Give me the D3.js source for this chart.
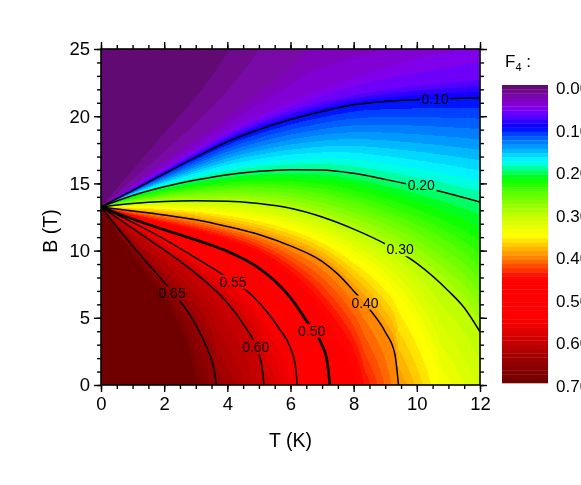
<!DOCTYPE html>
<html lang="en">
<meta charset="UTF-8">
<title>F4 contour map</title>
<script src="https://cdn.jsdelivr.net/npm/d3@7"></script>
<style>
body { margin: 0; background: #fff; }
#wrap { position: relative; width: 581px; height: 485px; overflow: hidden; }
#field { position: absolute; }
#chart { position: absolute; left: 0; top: 0; font-family: "Liberation Sans", Arial, sans-serif; }
</style>
<body>
<div id="wrap">
  <canvas id="field"></canvas>
  <svg id="chart" width="581" height="485"></svg>
</div>
<script>
// labelled contour levels and where their labels sit (T in K, B in T)
const levels = [0.10, 0.20, 0.30, 0.40, 0.50, 0.55, 0.60, 0.65];
const labelT = [10.58, 10.14, 9.47, 8.36, 6.67, 4.18, 4.90, 2.25];
const labelB = [21.25, 14.88, 10.09, 6.13, 4.03, 7.67, 2.81, 6.82];

// contour lines, [T, B]
const line010 = [[0,13.25],[1,14.47],[2,15.72],[3,16.95],[4,18.1],[5,19.0],[6,19.75],[7,20.35],[8,20.85],[9,21.1],[10,21.22],[11,21.3],[12,21.37]];
const line020 = [[0,13.25],[1,14.1],[2,14.75],[3,15.25],[4,15.65],[5,15.9],[6,16.02],[7,16.0],[8,15.75],[9,15.3],[10,14.8],[11,14.25],[12,13.62]];
const line030 = [[0,13.25],[1,13.5],[2,13.65],[3,13.7],[4,13.68],[5,13.5],[6,13.15],[7,12.5],[8,11.6],[9,10.5],[10,9.05],[11,7.0],[11.5,5.75],[12,3.96]];
const line040 = [[0,13.25],[1,12.95],[2,12.65],[3,12.3],[4,11.8],[5,11.2],[6,10.35],[7,9.2],[7.5,8.25],[8,7.0],[8.5,5.65],[9,3.95],[9.3,2.35],[9.42,0]];
const line050 = [[0,13.25],[1,12.35],[2,11.55],[3,10.8],[4,9.95],[5,8.7],[5.5,7.75],[6,6.5],[6.5,4.8],[7,2.95],[7.15,1.9],[7.25,0]];
const line055 = [[0,13.25],[1,12.1],[2,10.85],[3,9.45],[3.7,8.45],[4.2,7.65],[4.65,6.95],[5.2,5.6],[5.67,4.1],[6.0,2.75],[6.15,1.5],[6.22,0]];
const line060 = [[0,13.25],[1,11.65],[2,10.05],[3,8.3],[3.92,6.32],[4.5,4.55],[4.9,2.9],[5.1,1.3],[5.16,0]];
const line065 = [[0,13.25],[0.7,11.2],[1.4,9.25],[2.0,7.65],[2.5,6.25],[2.92,4.83],[3.29,3.1],[3.56,1.36],[3.66,0]];

// colour band edges seen in the fill (not drawn as lines)
const guideLevels = [0.01, 0.02, 0.03, 0.05, 0.07, 0.35, 0.45, 0.69];
const guide001 = [[0,13.25],[1.65,17.8],[3.45,22.8],[4.08,25]];
const guide002 = [[0,13.25],[1,15.3],[2,17.35],[3,19.5],[4,21.9],[5.03,25]];
const guide003 = [[0,13.25],[1,14.95],[2,16.65],[3,18.3],[4,20.0],[5,21.75],[6,23.6],[6.6,25]];
const guide005 = [[0,13.25],[1,14.7],[2,16.15],[3,17.55],[4,18.9],[5,20.05],[6,21.05],[7,22.0],[8,22.85],[9,23.6],[10,24.25],[11,24.75],[11.5,25]];
const guide007 = [[0,13.25],[1,14.6],[2,15.95],[3,17.25],[4,18.55],[5,19.55],[6,20.4],[7,21.05],[8,21.55],[9,21.95],[10,22.25],[11,22.5],[12,22.7]];
const guide035 = [[0,13.25],[1,13.25],[2,13.2],[3,13.05],[4,12.8],[5,12.4],[6,11.8],[7,10.9],[8,9.6],[9,7.8],[9.5,6.5],[10,4.6],[10.4,2.6],[10.65,1.0],[10.73,0]];
const guide045 = [[0,13.25],[1,12.65],[2,12.1],[3,11.55],[4,10.9],[5,10.0],[6,8.5],[6.5,7.45],[7,6.15],[7.5,4.6],[8,2.6],[8.2,1.35],[8.33,0]];
const guide069 = [[0,13.25],[0.57,11.2],[1.15,9.25],[1.64,7.65],[2.05,6.25],[2.39,4.83],[2.7,3.1],[2.92,1.36],[3.0,0]];

// F4 along the bottom (B = 0) and top (B = 25) edges
const bottomT = [0, 2.5, 3.0, 3.66, 5.16, 6.22, 7.25, 8.33, 9.42, 10.73, 12];
const bottomF = [0.70, 0.699, 0.69, 0.65, 0.60, 0.55, 0.50, 0.45, 0.40, 0.35, 0.318];
const topT = [0, 4.08, 5.03, 6.6, 11.5, 12];
const topF = [0, 0.01, 0.02, 0.03, 0.05, 0.052];

// colour bar
const cbStops = [0, 0.01, 0.025, 0.04, 0.055, 0.07, 0.085, 0.10, 0.115, 0.13, 0.15, 0.17, 0.18, 0.195, 0.21, 0.22, 0.25, 0.28, 0.31, 0.34, 0.355, 0.37, 0.39, 0.41, 0.43, 0.45, 0.46, 0.55, 0.57, 0.60, 0.63, 0.66, 0.69, 0.70];
const cbColors = ["#5a0a64","#6a0a82","#7a0aa8","#8200c8","#8000ec","#6400ff","#3000ff","#0000ff","#0040ff","#0070ff","#00a8ff","#00e8ff","#00ffff","#00ffa0","#00ff40","#00ff00","#50ff00","#90ff00","#c8ff00","#f0ff00","#ffff00","#ffd800","#ffa800","#ff7800","#ff4000","#ff0800","#ff0000","#ff0000","#e80000","#cc0000","#aa0000","#8c0000","#760000","#6a0000"];
const cbTicks = [0, 0.1, 0.2, 0.3, 0.4, 0.5, 0.6, 0.7];
const nBands = 70;

const xTicks = [0, 2, 4, 6, 8, 10, 12];
const yTicks = [0, 5, 10, 15, 20, 25];

const svg = d3.select('#chart');
const pLeft = 101, pRight = 480, pTop = 49, pBottom = 385;

const x = d3.scaleLinear().domain([0, 12]).range([pLeft, pRight]);
const y = d3.scaleLinear().domain([0, 25]).range([pBottom, pTop]);
const cb = d3.scaleLinear().domain([0, 0.7]).range([85, 383]);
const colour = d3.scaleLinear().domain(cbStops).range(cbColors).interpolate(d3.interpolateRgb);
const bandIndex = v => Math.max(0, Math.min(nBands - 1, Math.floor(v * 100 + 1e-6)));
const bandColours = d3.range(nBands).map(k => d3.rgb(colour((k + 0.5) / 100)));
const edgeBottom = d3.scaleLinear().domain(bottomT).range(bottomF).clamp(true);
const edgeTop = d3.scaleLinear().domain(topT).range(topF).clamp(true);

const lineGen = d3.line().x(d => x(d[0])).y(d => y(d[1])).curve(d3.curveMonotoneX);

const drawnLines = [line010, line020, line030, line040, line050, line055, line060, line065];
const guideLines = [guide001, guide002, guide003, guide005, guide007, guide035, guide045, guide069];
const isolines = levels.map((v, i) => ({level: v, pts: drawnLines[i]}))
  .concat(guideLevels.map((v, i) => ({level: v, pts: guideLines[i]})));

// sample each curve so the fill follows the same shape as the drawn lines
const scratch = svg.append('g').attr('visibility', 'hidden');
isolines.forEach(c => {
  const p = scratch.append('path').attr('d', lineGen(c.pts)).node();
  const L = p.getTotalLength();
  const xs = [], ys = [];
  for (let s = 0; s <= L + 0.25; s += 0.5) {
    const q = p.getPointAtLength(Math.min(s, L));
    xs.push(xs.length ? Math.max(q.x, xs[xs.length - 1]) : q.x);
    ys.push(q.y);
  }
  c.xs = xs; c.ys = ys;
});
scratch.remove();

function crossing(c, px) {
  const n = c.xs.length;
  if (px < c.xs[0] || px > c.xs[n - 1]) return null;
  const i = d3.bisectLeft(c.xs, px);
  if (i === 0) return c.ys[0];
  const x0 = c.xs[i - 1], x1 = c.xs[i];
  const t = x1 > x0 ? (px - x0) / (x1 - x0) : 0;
  return c.ys[i - 1] + t * (c.ys[i] - c.ys[i - 1]);
}

// colour fill
const pw = pRight - pLeft, ph = pBottom - pTop;
const canvas = document.getElementById('field');
canvas.width = pw; canvas.height = ph;
canvas.style.left = pLeft + 'px'; canvas.style.top = pTop + 'px';
const ctx = canvas.getContext('2d');
const img = ctx.createImageData(pw, ph);
for (let i = 0; i < pw; i++) {
  const px = pLeft + i + 0.5;
  const T = x.invert(px);
  const nodes = [{y: pTop, v: edgeTop(T)}];
  isolines.forEach(c => {
    const cy = crossing(c, px);
    if (cy !== null) nodes.push({y: Math.max(pTop, Math.min(pBottom, cy)), v: c.level});
  });
  nodes.push({y: pBottom, v: edgeBottom(T)});
  nodes.sort((a, b) => a.v - b.v);
  for (let k = 1; k < nodes.length; k++) nodes[k].y = Math.max(nodes[k].y, nodes[k - 1].y);
  let k = 0;
  for (let j = 0; j < ph; j++) {
    const py = pTop + j + 0.5;
    while (k < nodes.length - 2 && nodes[k + 1].y < py) k++;
    const a = nodes[k], b = nodes[k + 1];
    let v;
    if (b.y > a.y) v = a.v + (b.v - a.v) * Math.max(0, Math.min(1, (py - a.y) / (b.y - a.y)));
    else v = b.v;
    const col = bandColours[bandIndex(v)];
    const o = (j * pw + i) * 4;
    img.data[o] = col.r; img.data[o + 1] = col.g; img.data[o + 2] = col.b; img.data[o + 3] = 255;
  }
}
ctx.putImageData(img, 0, 0);

// contour lines with gaps under their labels
const defs = svg.append('defs');
defs.append('clipPath').attr('id', 'plotClip')
  .append('rect').attr('x', pLeft).attr('y', pTop).attr('width', pw).attr('height', ph);
const mask = defs.append('mask').attr('id', 'labelMask')
  .attr('maskUnits', 'userSpaceOnUse').attr('x', 0).attr('y', 0).attr('width', 581).attr('height', 485);
mask.append('rect').attr('width', 581).attr('height', 485).attr('fill', 'white');

svg.append('g')
    .attr('clip-path', 'url(#plotClip)')
    .attr('mask', 'url(#labelMask)')
  .selectAll('path').data(levels.map((v, i) => ({level: v, pts: drawnLines[i]})))
  .enter().append('path')
    .attr('d', d => lineGen(d.pts))
    .attr('fill', 'none')
    .attr('stroke', '#000')
    .attr('stroke-width', d => d.level === 0.50 ? 2.7 : 1.5);

const labels = svg.append('g')
    .attr('font-size', 14)
  .selectAll('text').data(levels)
  .enter().append('text')
    .attr('x', (d, i) => x(labelT[i]))
    .attr('y', (d, i) => y(labelB[i]))
    .attr('dy', '0.35em')
    .attr('text-anchor', 'middle')
    .text(d3.format('.2f'));

labels.each(function () {
  const b = this.getBBox();
  mask.append('rect')
    .attr('x', b.x - 1.5).attr('y', b.y + 1)
    .attr('width', b.width + 3).attr('height', b.height - 2)
    .attr('fill', 'black');
});

// axes
const styleAxis = g => {
  g.select('.domain').remove();
  g.attr('font-family', null).attr('font-size', 18.5);
  g.selectAll('line').attr('stroke-width', 1.4);
  g.selectAll('text').attr('fill', '#000');
};

svg.append('g').attr('transform', `translate(0,${pBottom})`)
  .call(d3.axisBottom(x).tickValues(d3.range(0, 12.01, 0.5)).tickSize(4).tickSizeOuter(0).tickFormat(''))
  .call(styleAxis);
svg.append('g').attr('transform', `translate(0,${pBottom})`)
  .call(d3.axisBottom(x).tickValues(xTicks).tickSize(7).tickSizeOuter(0).tickPadding(5).tickFormat(d3.format('d')))
  .call(styleAxis);
svg.append('g').attr('transform', `translate(0,${pTop})`)
  .call(d3.axisTop(x).tickValues(d3.range(0, 12.01, 0.5)).tickSize(4).tickSizeOuter(0).tickFormat(''))
  .call(styleAxis);
svg.append('g').attr('transform', `translate(0,${pTop})`)
  .call(d3.axisTop(x).tickValues(xTicks).tickSize(7).tickSizeOuter(0).tickFormat(''))
  .call(styleAxis);

svg.append('g').attr('transform', `translate(${pLeft},0)`)
  .call(d3.axisLeft(y).tickValues(d3.range(0, 25.01, 1)).tickSize(4).tickSizeOuter(0).tickFormat(''))
  .call(styleAxis);
svg.append('g').attr('transform', `translate(${pLeft},0)`)
  .call(d3.axisLeft(y).tickValues(yTicks).tickSize(7).tickSizeOuter(0).tickPadding(4).tickFormat(d3.format('d')))
  .call(styleAxis);
svg.append('g').attr('transform', `translate(${pRight},0)`)
  .call(d3.axisRight(y).tickValues(d3.range(0, 25.01, 1)).tickSize(4).tickSizeOuter(0).tickFormat(''))
  .call(styleAxis);
svg.append('g').attr('transform', `translate(${pRight},0)`)
  .call(d3.axisRight(y).tickValues(yTicks).tickSize(7).tickSizeOuter(0).tickFormat(''))
  .call(styleAxis);

svg.append('rect')
  .attr('x', pLeft).attr('y', pTop).attr('width', pw).attr('height', ph)
  .attr('fill', 'none').attr('stroke', '#000').attr('stroke-width', 1.6);

svg.append('text')
  .attr('x', (pLeft + pRight) / 2).attr('y', 447)
  .attr('text-anchor', 'middle').attr('font-size', 19.5)
  .text('T (K)');
svg.append('text')
  .attr('transform', 'translate(56.5,231) rotate(-90)')
  .attr('text-anchor', 'middle').attr('font-size', 19.5)
  .text('B (T)');

// colour bar
svg.append('g').selectAll('rect').data(d3.range(nBands))
  .enter().append('rect')
    .attr('x', 502).attr('width', 46)
    .attr('y', k => cb(k / 100))
    .attr('height', k => cb((k + 1) / 100) - cb(k / 100) + 0.3)
    .attr('fill', k => bandColours[k].formatHex());

svg.append('g').attr('font-size', 17)
  .selectAll('text').data(cbTicks)
  .enter().append('text')
    .attr('x', 556)
    .attr('y', d => cb(d) + 3)
    .attr('dy', '0.35em')
    .text(d3.format('.2f'));

const cbTitle = svg.append('text').attr('x', 505).attr('y', 67).attr('font-size', 17);
cbTitle.append('tspan').text('F');
cbTitle.append('tspan').attr('font-size', 11).attr('dy', 4).text('4');
cbTitle.append('tspan').attr('dy', -4).text(' :');
</script>
</body>
</html>
